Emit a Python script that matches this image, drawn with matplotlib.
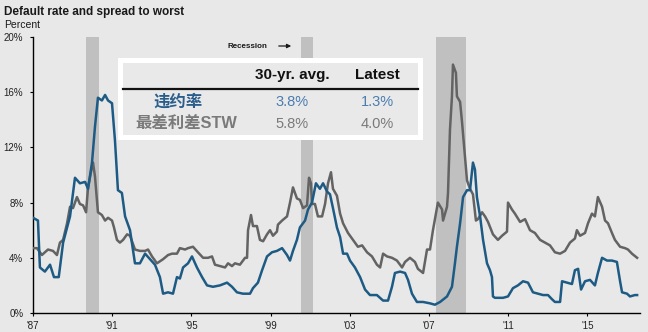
import matplotlib
matplotlib.use("Agg")
import matplotlib.pyplot as plt
from matplotlib.patches import Rectangle

plt.rcParams['font.family'] = ['Liberation Sans', 'Noto Sans CJK SC', 'DejaVu Sans']

# default rate (percent), year fractions on the chart's own time axis
default_years = [1987.0, 1987.25, 1987.35, 1987.6, 1987.86, 1988.06, 1988.3, 1988.52, 1988.87,
                 1989.12, 1989.37, 1989.63, 1989.78, 1989.98, 1990.13, 1990.28, 1990.48, 1990.64,
                 1990.79, 1990.99, 1991.14, 1991.29, 1991.49, 1991.65, 1991.9, 1992.15, 1992.4,
                 1992.66, 1992.91, 1993.16, 1993.41, 1993.57, 1993.82, 1994.07, 1994.27, 1994.42,
                 1994.58, 1994.83, 1995.03, 1995.28, 1995.54, 1995.79, 1996.09, 1996.44, 1996.8,
                 1997.05, 1997.3, 1997.6, 1997.96, 1998.11, 1998.36, 1998.57, 1998.82, 1999.07,
                 1999.32, 1999.58, 1999.83, 1999.98, 2000.13, 2000.33, 2000.48, 2000.74, 2000.89,
                 2001.09, 2001.29, 2001.49, 2001.65, 2001.85, 2002.0, 2002.15, 2002.35, 2002.51,
                 2002.66, 2002.86, 2003.01, 2003.26, 2003.52, 2003.77, 2004.02, 2004.37, 2004.68,
                 2004.93, 2005.13, 2005.28, 2005.54, 2005.79, 2005.94, 2006.14, 2006.39, 2006.7,
                 2007.05, 2007.3, 2007.56, 2007.91, 2008.16, 2008.31, 2008.41, 2008.57, 2008.72,
                 2008.92, 2009.07, 2009.22, 2009.32, 2009.42, 2009.58, 2009.73, 2009.93, 2010.08,
                 2010.18, 2010.23, 2010.33, 2010.74, 2010.99, 2011.24, 2011.49, 2011.75, 2012.0,
                 2012.25, 2012.51, 2012.76, 2013.01, 2013.21, 2013.36, 2013.62, 2013.72, 2013.97,
                 2014.22, 2014.37, 2014.53, 2014.68, 2014.88, 2015.13, 2015.38, 2015.53, 2015.74,
                 2015.99, 2016.24, 2016.49, 2016.65, 2016.75, 2017.0, 2017.15, 2017.4, 2017.51]
default_rate = [6.9, 6.7, 3.3, 3.0, 3.5, 2.6, 2.6, 5.1, 7.0,
                9.8, 9.4, 9.5, 9.0, 10.9, 13.5, 15.6, 15.4, 15.8,
                15.4, 15.2, 12.5, 8.9, 8.7, 7.0, 6.0, 3.6, 3.6,
                4.3, 3.9, 3.5, 2.6, 1.4, 1.5, 1.4, 2.6, 2.5,
                3.3, 3.6, 4.1, 3.3, 2.6, 2.0, 1.9, 2.0, 2.2,
                1.9, 1.5, 1.4, 1.4, 1.8, 2.2, 3.1, 4.1, 4.4,
                4.5, 4.7, 4.2, 3.8, 4.5, 5.3, 6.2, 6.7, 7.5,
                8.0, 9.4, 9.0, 9.4, 8.8, 8.6, 7.6, 6.2, 5.5,
                4.3, 4.3, 3.8, 3.3, 2.6, 1.7, 1.3, 1.3, 0.9,
                0.9, 1.9, 2.9, 3.0, 2.9, 2.4, 1.4, 0.8, 0.8,
                0.7, 0.6, 0.8, 1.2, 1.9, 3.6, 4.8, 6.5, 8.4,
                8.9, 8.9, 10.9, 10.4, 8.4, 7.0, 5.3, 3.6, 3.1,
                2.6, 1.2, 1.1, 1.1, 1.2, 1.8, 2.0, 2.3, 2.2,
                1.5, 1.4, 1.3, 1.3, 1.0, 0.8, 0.8, 2.3, 2.2,
                2.1, 3.1, 3.2, 1.7, 2.3, 2.4, 2.0, 2.9, 4.0,
                3.8, 3.8, 3.7, 2.3, 1.5, 1.4, 1.2, 1.3, 1.3]

# high-yield spread to worst (percent)
spread_years = [1987.0, 1987.2, 1987.45, 1987.6, 1987.76, 1988.01, 1988.21, 1988.36, 1988.52,
                1988.72, 1988.87, 1989.02, 1989.22, 1989.37, 1989.53, 1989.68, 1989.78, 1989.98,
                1990.03, 1990.13, 1990.28, 1990.48, 1990.64, 1990.79, 1990.99, 1991.09, 1991.24,
                1991.39, 1991.55, 1991.75, 1991.9, 1992.15, 1992.4, 1992.66, 1992.81, 1993.01,
                1993.26, 1993.57, 1993.82, 1994.02, 1994.27, 1994.42, 1994.68, 1994.83, 1995.08,
                1995.33, 1995.59, 1995.84, 1996.04, 1996.19, 1996.44, 1996.7, 1996.85, 1997.05,
                1997.2, 1997.45, 1997.71, 1997.81, 1997.86, 1998.01, 1998.11, 1998.31, 1998.46,
                1998.62, 1998.82, 1998.97, 1999.12, 1999.32, 1999.37, 1999.58, 1999.83, 1999.98,
                2000.13, 2000.33, 2000.48, 2000.64, 2000.84, 2000.94, 2001.04, 2001.09, 2001.24,
                2001.39, 2001.6, 2001.75, 2001.9, 2002.05, 2002.15, 2002.35, 2002.51, 2002.66,
                2002.91, 2003.16, 2003.41, 2003.62, 2003.87, 2004.12, 2004.37, 2004.53, 2004.68,
                2004.88, 2005.13, 2005.38, 2005.64, 2005.79, 2006.04, 2006.29, 2006.44, 2006.7,
                2006.9, 2007.05, 2007.2, 2007.45, 2007.66, 2007.71, 2007.91, 2007.96, 2008.06,
                2008.16, 2008.21, 2008.36, 2008.41, 2008.57, 2008.67, 2008.82, 2008.92, 2009.07,
                2009.22, 2009.37, 2009.47, 2009.68, 2009.83, 2009.98, 2010.23, 2010.48, 2010.69,
                2010.94, 2010.99, 2011.19, 2011.34, 2011.6, 2011.85, 2012.1, 2012.35, 2012.61,
                2012.86, 2013.11, 2013.36, 2013.62, 2013.87, 2014.12, 2014.37, 2014.47, 2014.63,
                2014.88, 2015.03, 2015.23, 2015.38, 2015.53, 2015.74, 2015.89, 2016.04, 2016.24,
                2016.39, 2016.65, 2016.9, 2017.05, 2017.25, 2017.51]
spread_rate = [4.7, 4.7, 4.2, 4.4, 4.6, 4.5, 4.2, 5.1, 5.3,
               6.5, 7.7, 7.6, 8.4, 7.9, 7.8, 7.3, 9.1, 10.6,
               10.9, 9.9, 7.3, 7.1, 6.7, 6.9, 6.7, 6.2, 5.3,
               5.1, 5.3, 5.7, 5.6, 4.6, 4.5, 4.5, 4.6, 4.1,
               3.6, 3.9, 4.2, 4.3, 4.3, 4.7, 4.6, 4.7, 4.8,
               4.4, 4.0, 4.0, 4.1, 3.5, 3.4, 3.3, 3.6, 3.4,
               3.6, 3.5, 4.0, 4.0, 6.0, 7.1, 6.3, 6.3, 5.3,
               5.2, 5.7, 6.0, 5.6, 5.9, 6.4, 6.7, 7.0, 8.0,
               9.1, 8.3, 8.2, 7.6, 7.8, 9.8, 9.4, 7.9, 7.9,
               7.0, 7.0, 7.9, 9.4, 10.2, 9.0, 8.5, 7.2, 6.5,
               5.8, 5.3, 4.8, 4.9, 4.4, 4.1, 3.5, 3.3, 4.3,
               4.1, 4.0, 3.8, 3.3, 3.7, 4.0, 3.7, 3.2, 2.9,
               4.6, 4.6, 6.0, 8.0, 7.5, 6.7, 7.7, 8.7, 13.3,
               15.7, 18.0, 17.4, 15.7, 15.3, 13.8, 11.3, 9.6, 9.0,
               8.6, 6.7, 6.8, 7.3, 7.0, 6.6, 5.7, 5.3, 5.6,
               5.9, 8.0, 7.5, 7.2, 6.6, 6.8, 6.0, 5.8, 5.3,
               5.1, 4.9, 4.4, 4.3, 4.5, 5.1, 5.4, 6.0, 5.6,
               5.8, 6.5, 7.2, 7.0, 8.4, 7.7, 6.7, 6.5, 5.8,
               5.3, 4.8, 4.7, 4.6, 4.3, 4.0]

recession_start = [1989.68, 2000.52, 2007.35]
recession_end = [1990.33, 2001.15, 2008.85]

tick_years = [1987, 1991, 1995, 1999, 2003, 2007, 2011, 2015]
tick_labels = ["'87", "'91", "'95", "'99", "'03", "'07", "'11", "'15"]
y_ticks = [0, 4, 8, 12, 16, 20]

table_cols = ["30-yr. avg.", "Latest"]
table_rows = ["违约率", "最差利差STW"]
avg_vals = [3.8, 5.8]
latest_vals = [1.3, 4.0]

bg = '#e8e8e8'
blue = '#1d5b85'
grey = '#636363'

fig = plt.figure(figsize=(6.48, 3.32), dpi=100, facecolor=bg)
ax = fig.add_axes([33 / 648, 19 / 332, 607 / 648, 276 / 332])
ax.set_facecolor(bg)

for s, e in zip(recession_start, recession_end):
    ax.axvspan(s, e, color='#c0c0c0', lw=0, zorder=1)

ax.plot(spread_years, spread_rate, color=grey, lw=1.8, zorder=3, solid_joinstyle='round')
ax.plot(default_years, default_rate, color=blue, lw=1.8, zorder=4, solid_joinstyle='round')

ax.set_xlim(1987.0, 1987.0 + 607 / 19.8)
ax.set_ylim(0, 20)
ax.set_xticks(tick_years)
ax.set_xticklabels(tick_labels)
ax.set_yticks(y_ticks)
ax.set_yticklabels([f"{v}%" for v in y_ticks])
ax.tick_params(axis='both', labelsize=7, length=2, width=0.8, color='black', labelcolor='#222222')
ax.tick_params(axis='y', pad=5)
ax.tick_params(axis='x', pad=4)
for side in ['top', 'right']:
    ax.spines[side].set_visible(False)
for side in ['left', 'bottom']:
    ax.spines[side].set_linewidth(1.0)
    ax.spines[side].set_color('black')

# titles
fig.text(4 / 648, 1 - 12 / 332, "Default rate and spread to worst", fontsize=8.5,
         fontweight='bold', color='#1a1a1a', va='center', ha='left')
fig.text(4 / 648, 1 - 25 / 332, "Percent", fontsize=7.5, color='#1a1a1a', va='center', ha='left')

# recession marker
fig.text(227 / 648, 1 - 46 / 332, "Recession", fontsize=5.8, fontweight='bold',
         color='#1a1a1a', va='center', ha='left')
ax.annotate("", xy=(294 / 648, 1 - 46 / 332), xytext=(276 / 648, 1 - 46 / 332),
            xycoords='figure fraction', textcoords='figure fraction',
            arrowprops=dict(arrowstyle='-|>', color='#1a1a1a', lw=0.9, mutation_scale=6))


def fx(px):
    return px / 648


def fy(py):
    return 1 - py / 332


# summary table box
fig.patches.append(Rectangle((fx(118), fy(140)), fx(305), 82 / 332, transform=fig.transFigure,
                             facecolor='white', edgecolor='none', zorder=5))
fig.patches.append(Rectangle((fx(123), fy(135)), fx(295), 72 / 332, transform=fig.transFigure,
                             facecolor='#e9e9e9', edgecolor='none', zorder=6))
fig.add_artist(plt.Line2D([fx(123), fx(418)], [fy(89), fy(89)], transform=fig.transFigure,
                          color='#111111', lw=1.6, zorder=7))

col_x = [292, 377]
for cx, label in zip(col_x, table_cols):
    fig.text(fx(cx), fy(75), label, fontsize=11, fontweight='bold', color='#111111',
             ha='center', va='center', zorder=8)

row_y = [102, 124]
row_x = [178, 186]
row_colors = ['#2a5d8c', '#7a7a7a']
val_colors = ['#4a7db0', '#7a7a7a']
for i in range(len(table_rows)):
    fig.text(fx(row_x[i]), fy(row_y[i]), table_rows[i], fontsize=11.8, fontweight='bold',
             color=row_colors[i], ha='center', va='center', zorder=8)
    fig.text(fx(col_x[0]), fy(row_y[i]), f"{avg_vals[i]:.1f}%", fontsize=10.5,
             color=val_colors[i], ha='center', va='center', zorder=8)
    fig.text(fx(col_x[1]), fy(row_y[i]), f"{latest_vals[i]:.1f}%", fontsize=10.5,
             color=val_colors[i], ha='center', va='center', zorder=8)

fig.savefig("out.png", dpi=100, facecolor=bg)
